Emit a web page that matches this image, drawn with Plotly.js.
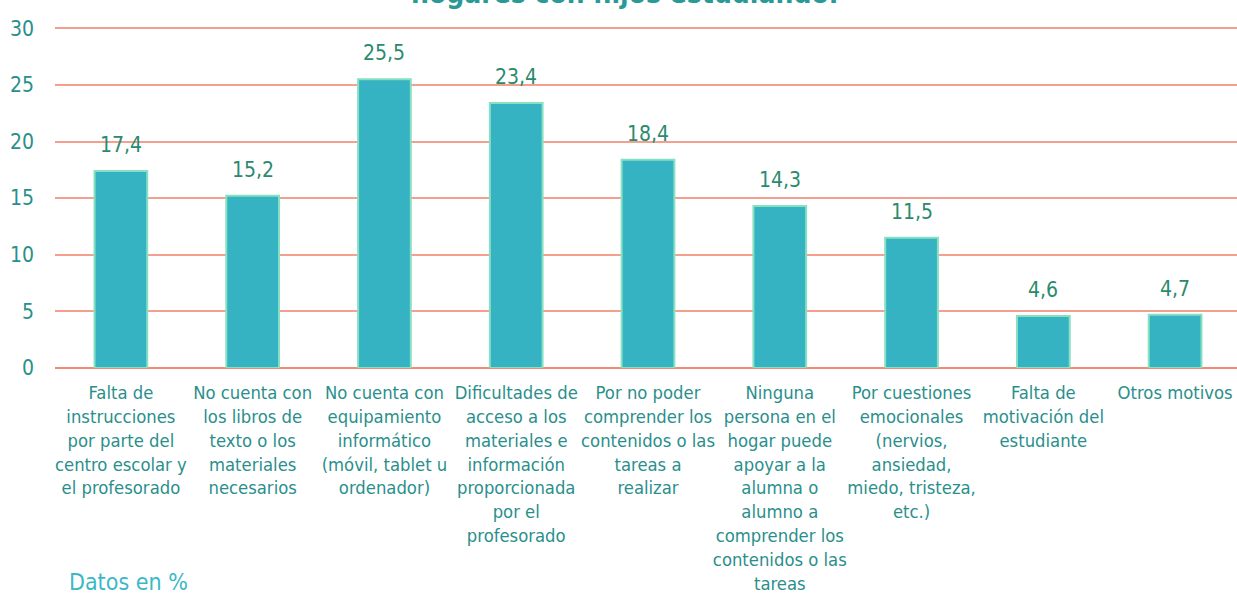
<!DOCTYPE html>
<html><head><meta charset="utf-8">
<script src="https://cdn.plot.ly/plotly-3.0.1.min.js"></script>
<style>html,body{margin:0;padding:0;background:#fff;overflow:hidden}#chart{width:1241px;height:599px}</style>
</head><body><div id="chart"></div>
<script>
const categories = [
  "Falta de<br>instrucciones<br>por parte del<br>centro escolar y<br>el profesorado",
  "No cuenta con<br>los libros de<br>texto o los<br>materiales<br>necesarios",
  "No cuenta con<br>equipamiento<br>informático<br>(móvil, tablet u<br>ordenador)",
  "Dificultades de<br>acceso a los<br>materiales e<br>información<br>proporcionada<br>por el<br>profesorado",
  "Por no poder<br>comprender los<br>contenidos o las<br>tareas a<br>realizar",
  "Ninguna<br>persona en el<br>hogar puede<br>apoyar a la<br>alumna o<br>alumno a<br>comprender los<br>contenidos o las<br>tareas",
  "Por cuestiones<br>emocionales<br>(nervios,<br>ansiedad,<br>miedo, tristeza,<br>etc.)",
  "Falta de<br>motivación del<br>estudiante",
  "Otros motivos"
];
const values = [17.4, 15.2, 25.5, 23.4, 18.4, 14.3, 11.5, 4.6, 4.7];
const valueLabels = values.map(v => v.toFixed(1).replace('.', ','));
const yTicks = [0, 5, 10, 15, 20, 25, 30];
const titleText = "hogares con hijos estudiando.";
const noteText = "Datos en %";

const FONT = "'DejaVu Sans Condensed', 'Liberation Sans Narrow', sans-serif";

const trace = {
  type: 'bar',
  x: categories,
  y: values,
  width: 0.4,
  marker: {color: '#35b3c2', line: {color: '#86e0c2', width: 2}},
  hoverinfo: 'none'
};

const valueAnnotations = categories.map((c, i) => ({
  x: c, y: values[i], xref: 'x', yref: 'y', text: valueLabels[i],
  showarrow: false, xanchor: 'center', yanchor: 'bottom', yshift: 12,
  font: {family: FONT, size: 21, color: '#2a8a6e'}
}));

const layout = {
  width: 1241, height: 599,
  margin: {l: 55, r: 0, t: 26, b: 231},
  paper_bgcolor: '#ffffff', plot_bgcolor: '#ffffff',
  showlegend: false,
  xaxis: {
    type: 'category',
    tickangle: 0,
    tickfont: {family: FONT, size: 18.3, color: '#2a8f8c'},
    showline: false, showgrid: false, ticks: '',
    ticklabelstandoff: 12,
    automargin: false
  },
  yaxis: {
    range: [0, 30.2],
    tickvals: yTicks,
    ticktext: yTicks.map(String),
    tickfont: {family: FONT, size: 21, color: '#2a8f8c'},
    showgrid: true, gridcolor: '#f5a08e', gridwidth: 2,
    zeroline: true, zerolinecolor: '#f28a74', zerolinewidth: 2,
    showline: false, ticks: '',
    ticklabelstandoff: 20,
    automargin: false
  },
  annotations: valueAnnotations.concat([
    {text: titleText, xref: 'paper', yref: 'paper', x: 0.48, y: 1.04, xanchor: 'center', yanchor: 'bottom',
     showarrow: false, font: {family: FONT, size: 28, color: '#2a9a96', weight: 'bold'}},
    {text: noteText, xref: 'paper', yref: 'paper', x: 0.01, y: -0.625, xanchor: 'left', yanchor: 'middle',
     showarrow: false, font: {family: FONT, size: 23, color: '#3bb8c8'}}
  ])
};

Plotly.newPlot('chart', [trace], layout, {displayModeBar: false, staticPlot: true});
</script>
</body></html>
